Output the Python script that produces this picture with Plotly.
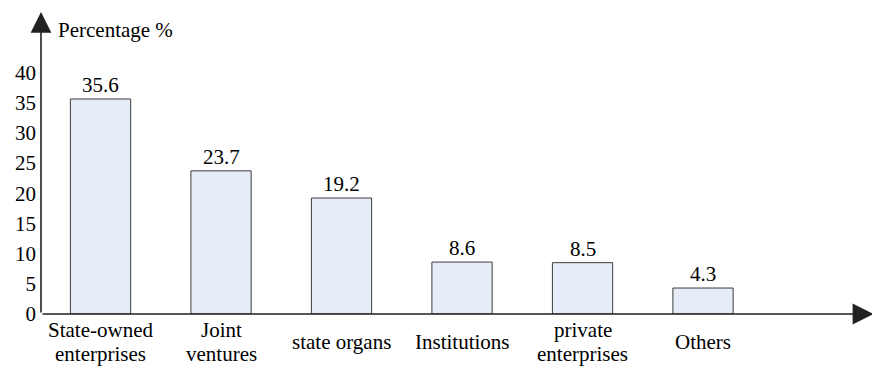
import plotly.graph_objects as go

# Employer categories (line breaks mark the wrapped labels)
categories = ["State-owned\nenterprises", "Joint\nventures", "state organs",
              "Institutions", "private\nenterprises", "Others"]
percentages = [35.6, 23.7, 19.2, 8.6, 8.5, 4.3]
y_ticks = [0, 5, 10, 15, 20, 25, 30, 35, 40]

FONT = "Times New Roman, Liberation Serif, DejaVu Serif, serif"
TEXT_COLOR = "#000000"
AXIS_COLOR = "#222222"
x_pos = list(range(len(categories)))
x_min, x_max = -0.494, 6.394
y_min, y_max = 0, 50

fig = go.Figure()
fig.add_trace(go.Bar(
    x=x_pos,
    y=percentages,
    width=0.5,
    marker=dict(color="#E6EDF8", line=dict(color="#3c3c3c", width=1)),
    hoverinfo="skip",
))

annotations = []
# value labels just above each bar
for xi, v in zip(x_pos, percentages):
    annotations.append(dict(
        x=xi, y=v, xref="x", yref="y", xanchor="center", yanchor="middle",
        yshift=14, text=f"{v:.1f}", showarrow=False,
        font=dict(family=FONT, size=21, color=TEXT_COLOR),
    ))
# axis lines with arrowheads
arrow_style = dict(text="", showarrow=True, arrowhead=2, arrowsize=2.6,
                   arrowwidth=1.6, arrowcolor=AXIS_COLOR,
                   standoff=0, startstandoff=0,
                   xref="x", yref="y", axref="x", ayref="y")
annotations.append(dict(x=x_max + 0.02, y=0, ax=x_min, ay=0, **arrow_style))
annotations.append(dict(x=x_min, y=y_max, ax=x_min, ay=0, **arrow_style))
# axis title
annotations.append(dict(
    x=x_min, y=y_max, xref="x", yref="y", xanchor="left", yanchor="top",
    xshift=15, yshift=-4, text="Percentage %", showarrow=False,
    font=dict(family=FONT, size=21, color=TEXT_COLOR),
))
# category labels, each line placed separately
for xi, name in zip(x_pos, categories):
    lines = name.split("\n")
    shifts = [-28] if len(lines) == 1 else [-16, -40]
    for line, ys in zip(lines, shifts):
        annotations.append(dict(
            x=xi, y=0, xref="x", yref="y", xanchor="center", yanchor="middle",
            yshift=ys, text=line, showarrow=False,
            font=dict(family=FONT, size=21, color=TEXT_COLOR),
        ))

fig.update_layout(
    width=872, height=370,
    margin=dict(l=41, r=1, t=12, b=56),
    plot_bgcolor="white", paper_bgcolor="white",
    showlegend=False,
    font=dict(family=FONT, size=21, color=TEXT_COLOR),
    xaxis=dict(range=[x_min, x_max], showgrid=False, zeroline=False,
               showline=False, showticklabels=False, ticks="", fixedrange=True),
    yaxis=dict(range=[y_min, y_max], tickvals=y_ticks, showgrid=False,
               zeroline=False, showline=False, ticks="",
               ticklabelstandoff=4,
               tickfont=dict(family=FONT, size=21, color=TEXT_COLOR),
               fixedrange=True),
    annotations=annotations,
)

fig.write_html("out.html")
